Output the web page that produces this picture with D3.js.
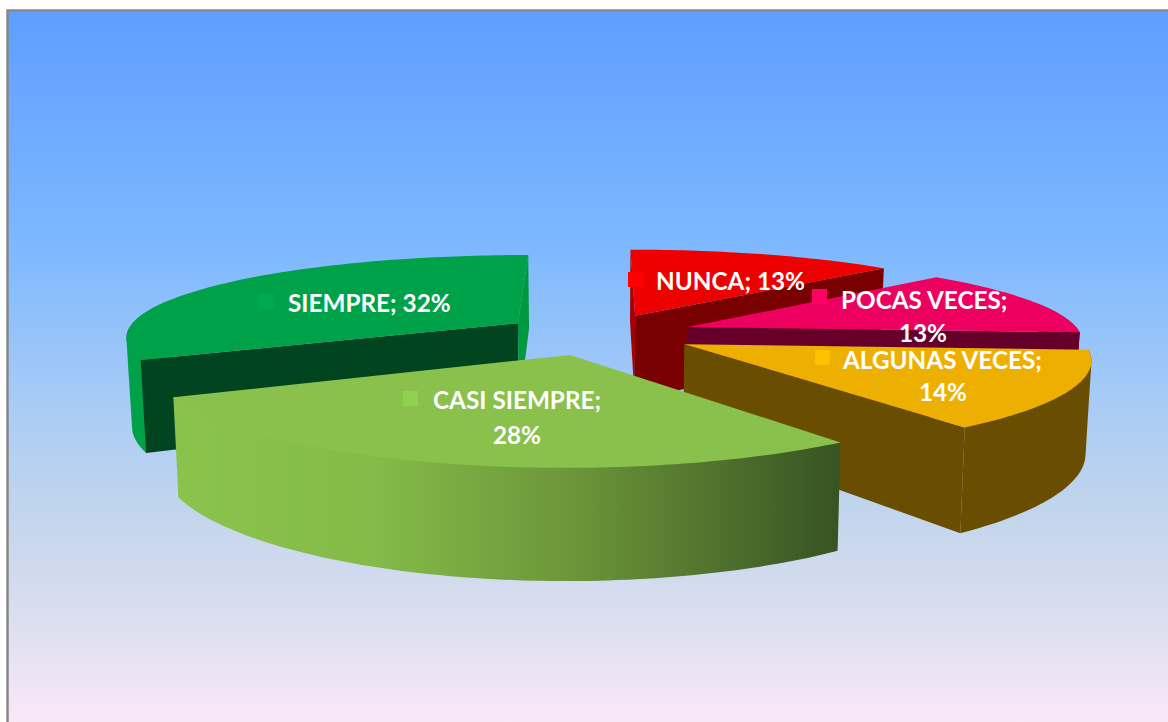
<!DOCTYPE html>
<html>
<head>
<meta charset="utf-8">
<title>Pie 3D</title>
<script src="https://d3js.org/d3.v7.min.js"></script>
<style>
  body { margin: 0; background: #fff; }
  svg { display: block; }
  .lbl { font-family: Lato, "Open Sans", sans-serif; font-weight: 700; fill: #fff; font-size: 24.3px; }
</style>
</head>
<body>
<svg id="chart" width="1168" height="722"></svg>
<script>
// chart values
var categories = ["NUNCA", "POCAS VECES", "ALGUNAS VECES", "CASI SIEMPRE", "SIEMPRE"];
var percents = [13, 13, 14, 28, 32];

// styles, same order as categories
var topColors = ["#ec0000", "#ee0060", "#eeb000", "#89c14c", "#00a249"];
var keyColors = ["#ff0000", "#ff0066", "#ffc000", "#92d050", "#00aa4f"];
var startCutColors = ["#a80000", "#66002a", "#694d00", "#4a6b2c", "#00451f"];
var endCutColors = ["#780000", "#66002a", "#694d00", "#4a6b2c", "#00983f"];
var wallColors = ["#780000", "#66002a", "#694d00", "url(#casiWall)", "#00a249"];
var nudgeX = [0, 0, 0, -3, 0];

// label layout: key square top-left, then text lines [text, x, baseline, anchor]
var labelLayout = [
  { key: [628, 272], lines: [["NUNCA; 13%", 656, 290]] },
  { key: [812, 289], lines: [["POCAS VECES;", 841, 309], ["13%", 923, 342, "middle"]] },
  { key: [815, 350], lines: [["ALGUNAS VECES;", 843, 369], ["14%", 943, 401, "middle"]] },
  { key: [403, 391], lines: [["CASI SIEMPRE;", 433, 409], ["28%", 517, 444, "middle"]] },
  { key: [259, 294], lines: [["SIEMPRE; 32%", 288, 312]] }
];

var svg = d3.select("#chart");
var defs = svg.append("defs");

var bg = defs.append("linearGradient").attr("id", "bg")
  .attr("x1", 0).attr("y1", 0).attr("x2", 0).attr("y2", 1);
[[0, "#5f9eff"], [0.33, "#7eb8ff"], [0.55, "#a9ccf5"], [0.72, "#c6d6ec"], [0.85, "#dcdff0"], [1, "#fbe9f8"]]
  .forEach(s => bg.append("stop").attr("offset", s[0]).attr("stop-color", s[1]));

var cw = defs.append("linearGradient").attr("id", "casiWall")
  .attr("x1", 0).attr("y1", 0).attr("x2", 1).attr("y2", 0);
[[0, "#8ac34c"], [0.3, "#84bb49"], [0.6, "#6c9539"], [1, "#375323"]]
  .forEach(s => cw.append("stop").attr("offset", s[0]).attr("stop-color", s[1]));

svg.append("rect")
  .attr("x", 7.5).attr("y", 10.5).attr("width", 1170).attr("height", 720)
  .attr("fill", "url(#bg)").attr("stroke", "#888").attr("stroke-width", 2.5);

// perspective projection of the pie: u right, v away from viewer, z down (0 = top face)
var cam = { x0: 598, y0: 334, fx: 393, fy: 84, depth: 88, px: 0.15, py: 0.18, shrink: 0.012 };
var explode = 0.246;

function project(u, v, z) {
  var sx = cam.x0 + cam.fx * u / (1 + cam.px * v) * (1 - cam.shrink * z);
  var sy = cam.y0 + (-cam.fy * v + cam.depth * z) / (1 + cam.py * v);
  return [sx, sy];
}

var pie = d3.pie().sort(null).value(d => d)(percents);
var line = d3.line();

pie.forEach(function(p, i) {
  var mid = (p.startAngle + p.endAngle) / 2;
  p.ou = explode * Math.sin(mid);
  p.ov = explode * Math.cos(mid);
  p.idx = i;
  p.name = categories[i];
  p.at = function(r, a, z) {
    var q = project(p.ou + r * Math.sin(a), p.ov + r * Math.cos(a), z);
    return [q[0] + nudgeX[i], q[1]];
  };
});

function rim(p, a0, a1, z) {
  var n = Math.max(2, Math.ceil((a1 - a0) / 0.02));
  return d3.range(n + 1).map(k => p.at(1, a0 + (a1 - a0) * k / n, z));
}

function wallPoly(p, a) {
  return [p.at(0, a, 0), p.at(1, a, 0), p.at(1, a, 1), p.at(0, a, 1)];
}

// back to front
var order = [4, 0, 1, 2, 3];
var slices = svg.selectAll("g.slice").data(order.map(i => pie[i])).enter().append("g").attr("class", "slice");

slices.each(function(p) {
  var g = d3.select(this);
  var a0 = p.startAngle, a1 = p.endAngle;

  // outer wall: hull of the front rim, the top face hides what sticks out above
  var pts = d3.range(0, 201).map(k => a0 + (a1 - a0) * k / 200).filter(a => Math.cos(a) < 0.3);
  if (pts.length > 1) {
    var lo = pts[0], hi = pts[pts.length - 1];
    var hull = d3.polygonHull(rim(p, lo, hi, 0).concat(rim(p, lo, hi, 1)));
    g.append("path").attr("d", line(hull) + "Z").attr("fill", wallColors[p.idx]);
  }

  // radial cut faces, drawn only when they face the viewer
  var s = wallPoly(p, a0);
  if (d3.polygonArea(s) > 0) {
    g.append("path").attr("d", line(s) + "Z").attr("fill", startCutColors[p.idx]);
  }
  var e = wallPoly(p, a1);
  if (d3.polygonArea(e) < 0) {
    g.append("path").attr("d", line(e) + "Z").attr("fill", endCutColors[p.idx]);
  }

  // top face
  var top = [p.at(0, 0, 0)].concat(rim(p, a0, a1, 0));
  g.append("path").attr("d", line(top) + "Z").attr("fill", topColors[p.idx]);
});

// labels on top of everything
labelLayout.forEach(function(l, i) {
  svg.append("rect").attr("x", l.key[0]).attr("y", l.key[1])
    .attr("width", 15).attr("height", 15).attr("fill", keyColors[i]);
  l.lines.forEach(function(t) {
    svg.append("text").attr("class", "lbl")
      .attr("x", t[1]).attr("y", t[2])
      .attr("text-anchor", t[3] || "start")
      .text(t[0]);
  });
});
</script>
</body>
</html>
